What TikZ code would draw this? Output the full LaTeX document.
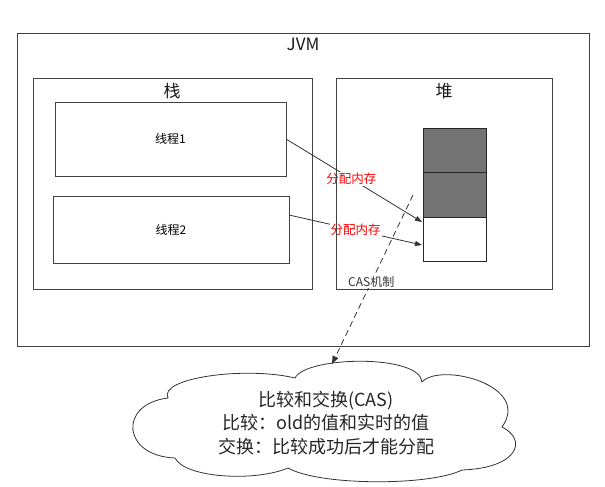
\documentclass[tikz,border=0pt]{standalone}
\usepackage{fontspec}
\setmainfont{Noto Sans CJK SC}
\usetikzlibrary{arrows.meta}
\begin{document}
\begin{tikzpicture}[x=1pt,y=-1pt,
  box/.style={draw=black!75,line width=0.8pt,inner sep=0pt},
  title/.style={font=\fontsize{17}{18}\selectfont,text=black!90},
  cell/.style={draw=black!85,line width=0.8pt,minimum width=63pt,minimum height=44.5pt,inner sep=0pt},
  lbl/.style={font=\fontsize{12.5}{13}\selectfont,text=red,inner sep=1pt},
  arr/.style={draw=black!80,line width=0.8pt,-{Triangle[length=7pt,width=5pt]}}]
\useasboundingbox (0,0) rectangle (605,487);
\draw[box] (17,33) rectangle (589,346);
\node[title] (jvm) at (303,44) {JVM};
\draw[box] (33,78) rectangle (312,289);
\node[title] (zhan) at (172,91) {栈};
\node[title] (dui) at (444,91) {堆};
\node[box,minimum width=231pt,minimum height=74pt] (t1) at (170.5,139) {\fontsize{12}{13}\selectfont 线程1};
\node[box,minimum width=236pt,minimum height=67pt] (t2) at (171,229.5) {\fontsize{12}{13}\selectfont 线程2};
\node[cell,fill=black!55] (c1) at (454.5,150.5) {};
\node[cell,fill=black!55] (c2) at (454.5,195) {};
\node[cell,fill=white] (c3) at (454.5,239.5) {};
\coordinate (a1s) at (286,139);
\coordinate (a1e) at (422,222);
\coordinate (a2s) at (289,215);
\coordinate (a2e) at (422,245);
\draw[arr] (a1s) -- node[lbl,fill=white,pos=0.48] (l1) {分配内存} (a1e);
\draw[arr] (a2s) -- node[lbl,fill=white,pos=0.5] (l2) {分配内存} (a2e);
% cloud
\draw[draw=black!80,line width=0.8pt,line join=round]
  (168,398) .. controls (158,378) and (245,366) .. (295,378)
  .. controls (306,356) and (420,354) .. (422,382)
  .. controls (440,362) and (532,385) .. (502,427)
  .. controls (528,440) and (518,468) .. (462,470)
  .. controls (430,486) and (320,486) .. (288,468)
  .. controls (255,482) and (185,478) .. (175,458)
  .. controls (122,456) and (118,404) .. (168,398) -- cycle;
\node[align=center,font=\fontsize{18}{23.5}\selectfont,text=black!85] (ct) at (326,423) {比较和交换(CAS)\\比较：old的值和实时的值\\交换：比较成功后才能分配};
\coordinate (ds) at (413,195);
\coordinate (de) at (332,364);
\draw[draw=black!80,line width=0.8pt,dash pattern=on 6pt off 4pt,-{Triangle[length=8pt,width=6pt]}] (ds) -- node[fill=white,pos=0.515,inner sep=0.5pt,font=\fontsize{12}{13}\selectfont,text=black!80] (cas) {CAS机制} (de);
\draw[box] (336,78) rectangle (552,289);
\end{tikzpicture}
\end{document}
